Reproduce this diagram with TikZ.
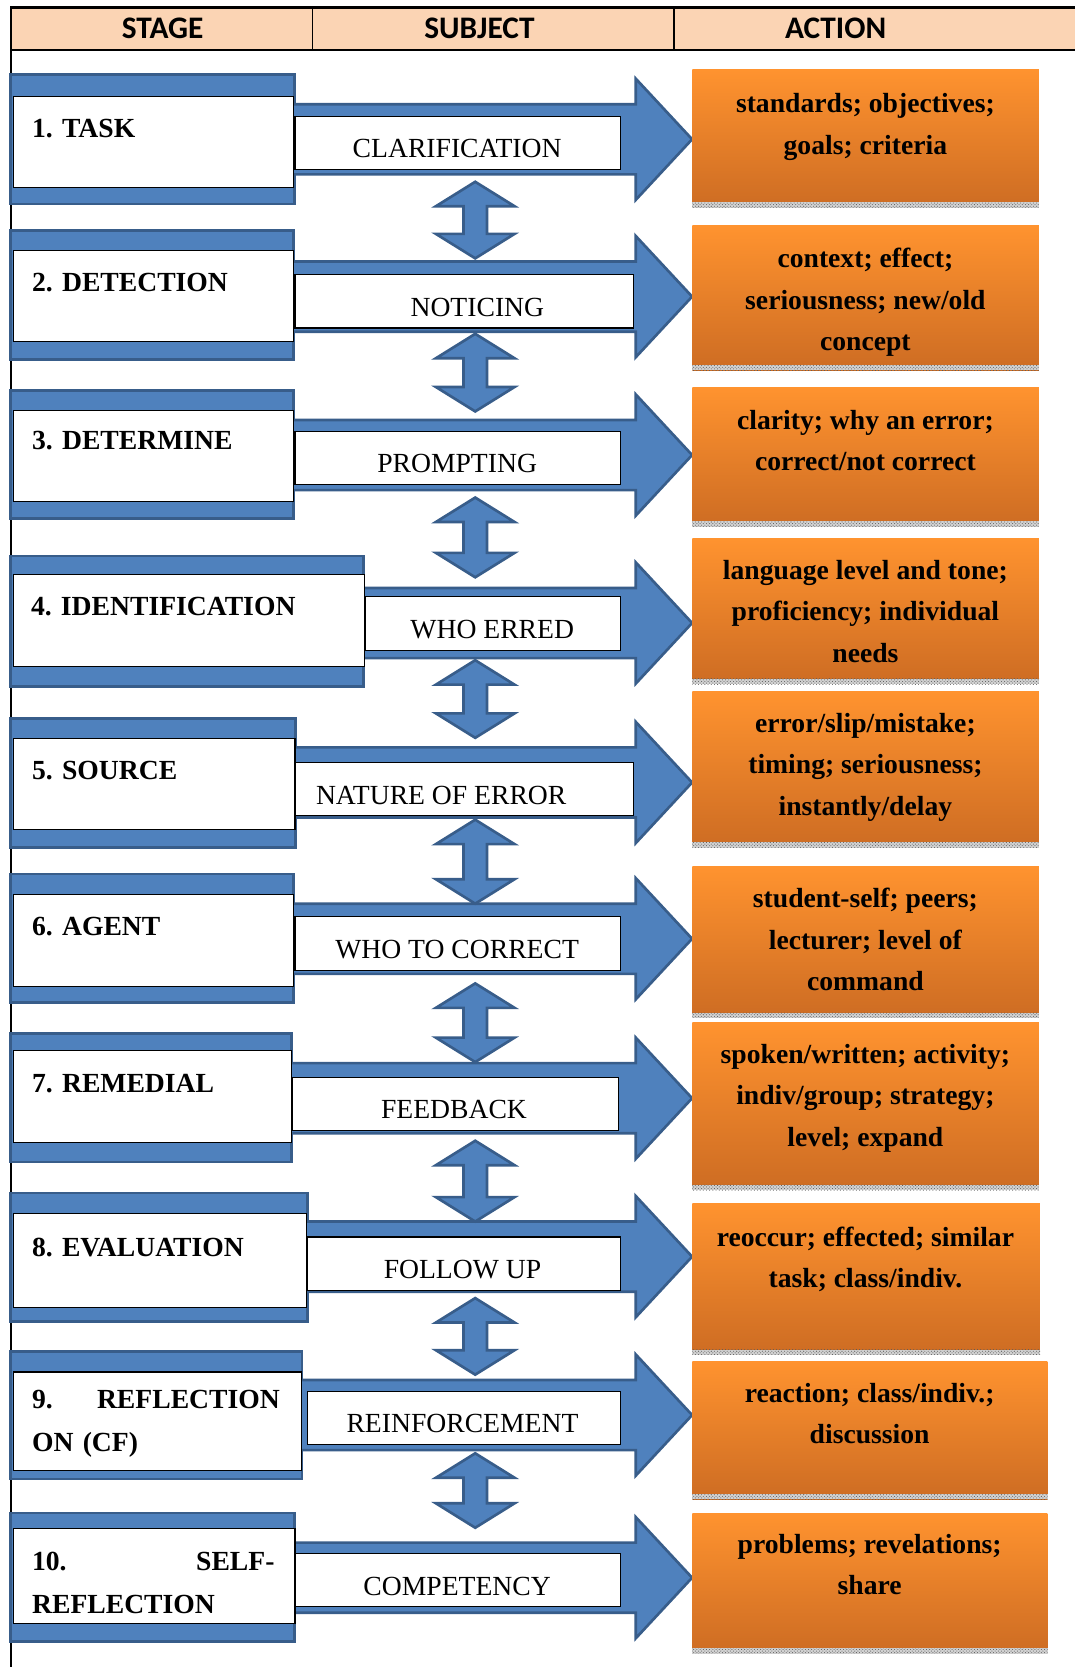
\documentclass[tikz,border=0pt]{standalone}
\usepackage{fontspec}
\setmainfont{Liberation Serif}
\newfontfamily\hdrfont{Carlito}
\usetikzlibrary{patterns}
\definecolor{hdrfill}{HTML}{FBD4B4}
\definecolor{blueF}{HTML}{4F81BD}
\definecolor{blueD}{HTML}{385D8A}
\definecolor{orT}{HTML}{FF932F}
\definecolor{orB}{HTML}{CD6C23}
\newcommand\rgtarr[2]{\path[blockarrow] (#1,#2-33) -- (598,#2-33) -- (598,#2-57) -- (651,#2) -- (598,#2+57) -- (598,#2+33) -- (#1,#2+33) -- cycle;}
\newcommand\dblarr[2]{\path[blockarrow] (447,#1) -- (484,#1+23) -- (458,#1+23) -- (458,#2-23) -- (484,#2-23) -- (447,#2) -- (410,#2-23) -- (436,#2-23) -- (436,#1+23) -- (410,#1+23) -- cycle;}
\newcommand\hatchstrip[1]{\fill[gray!35] ([yshift=5pt]#1.south west) rectangle (#1.south east);
  \fill[pattern=crosshatch dots, pattern color=gray!70!black] ([yshift=5pt]#1.south west) rectangle (#1.south east);}
\begin{document}
\begin{tikzpicture}[x=1pt,y=-1pt,
  band/.style={fill=blueF, draw=blueD, line width=2.5pt},
  blockarrow/.style={fill=blueF, draw=blueD, line width=2.5pt},
  stagebox/.style={draw=black, fill=white, line width=1pt, inner sep=0pt, anchor=north west},
  stagetext/.style={anchor=north west, inner sep=0pt, align=left, font=\bfseries\fontsize{26}{40}\selectfont},
  subjbox/.style={draw=black, fill=white, line width=1pt, inner sep=0pt, anchor=north west, minimum height=50pt},
  subjtext/.style={anchor=base, inner sep=0pt, font=\fontsize{26}{30}\selectfont},
  actbox/.style={top color=orT, bottom color=orB, draw=none, inner sep=0pt, anchor=north west},
  acttext/.style={anchor=north, inner sep=0pt, align=center, font=\bfseries\fontsize{26}{39}\selectfont},
  hdrtext/.style={anchor=base, inner sep=0pt, font=\hdrfont\bfseries\fontsize{29.5}{32}\selectfont}]
\useasboundingbox (0,0) rectangle (1011,1568);
\fill[white] (0,0) rectangle (1011,1568);
% header
\fill[hdrfill] (10,7) rectangle (1011,47);
\draw[line width=2pt] (1011,7) -- (10,7) -- (10,1568);
\draw[line width=2pt] (10,47) -- (1011,47);
\draw[line width=1.5pt] (294,7) -- (294,47);
\draw[line width=1.5pt] (634,7) -- (634,47);
\node[hdrtext] (h1) at (153,36.5) {STAGE};
\node[hdrtext] (h2) at (451,36.5) {SUBJECT};
\node[hdrtext] (h3) at (786,36.5) {ACTION};
% bands
\draw[band] (10,70) rectangle (277,192);
\draw[band] (10,217) rectangle (276,338);
\draw[band] (10,367) rectangle (276,488);
\draw[band] (10,523) rectangle (342,646);
\draw[band] (10,676) rectangle (278,797);
\draw[band] (10,822) rectangle (276,943);
\draw[band] (10,972) rectangle (274,1093);
\draw[band] (10,1122) rectangle (289,1243);
\draw[band] (10,1271) rectangle (284,1391);
\draw[band] (10,1423) rectangle (277,1544);
% right block arrows
\rgtarr{270}{131}
\rgtarr{270}{279}
\rgtarr{270}{428}
\rgtarr{336}{586}
\rgtarr{271}{736}
\rgtarr{270}{883}
\rgtarr{268}{1033}
\rgtarr{282}{1182}
\rgtarr{277}{1331}
\rgtarr{270}{1484}
% stage boxes
\node[stagebox, minimum width=264pt, minimum height=86pt] (st1) at (12,90) {};
\node[stagebox, minimum width=264pt, minimum height=86pt] (st2) at (12,235) {};
\node[stagebox, minimum width=264pt, minimum height=85pt] (st3) at (12,386) {};
\node[stagebox, minimum width=330pt, minimum height=86pt] (st4) at (12,540) {};
\node[stagebox, minimum width=265pt, minimum height=86pt] (st5) at (12,694) {};
\node[stagebox, minimum width=264pt, minimum height=86pt] (st6) at (12,841) {};
\node[stagebox, minimum width=262pt, minimum height=86pt] (st7) at (12,988) {};
\node[stagebox, minimum width=276pt, minimum height=88pt] (st8) at (12,1141) {};
\node[stagebox, minimum width=271pt, minimum height=93pt] (st9) at (12,1290) {};
\node[stagebox, minimum width=265pt, minimum height=90pt] (st10) at (12,1437) {};
\node[stagetext] (t1) at (30,101) {\strut 1. TASK};
\node[stagetext] (t2) at (30,246) {\strut 2. DETECTION};
\node[stagetext] (t3) at (30,395) {\strut 3. DETERMINE};
\node[stagetext] (t4) at (29,551) {\strut 4. IDENTIFICATION};
\node[stagetext] (t5) at (30,705) {\strut 5. SOURCE};
\node[stagetext] (t6) at (30,852) {\strut 6. AGENT};
\node[stagetext] (t7) at (30,999) {\strut 7. REMEDIAL};
\node[stagetext] (t8) at (30,1154) {\strut 8. EVALUATION};
\node[stagetext, text width=233pt] (t9) at (30,1297) {\strut 9.\hfill REFLECTION\\ON (CF)};
\node[stagetext, text width=228pt] (t10) at (30,1449) {\strut 10.\hfill SELF-\\REFLECTION};
% subject boxes
\node[subjbox, minimum width=306pt] (s1) at (277,109) {};
\node[subjbox, minimum width=318pt] (s2) at (277,258) {};
\node[subjbox, minimum width=306pt] (s3) at (277,405) {};
\node[subjbox, minimum width=240pt] (s4) at (343,561) {};
\node[subjbox, minimum width=318pt] (s5) at (277,717) {};
\node[subjbox, minimum width=306pt] (s6) at (277,862) {};
\node[subjbox, minimum width=306pt] (s7) at (275,1013) {};
\node[subjbox, minimum width=294pt] (s8) at (289,1163) {};
\node[subjbox, minimum width=294pt] (s9) at (289,1308) {};
\node[subjbox, minimum width=306pt] (s10) at (277,1461) {};
\node[subjtext] (u1) at (430,148.5) {CLARIFICATION};
\node[subjtext] (u2) at (449,297.5) {NOTICING};
\node[subjtext] (u3) at (430,444.5) {PROMPTING};
\node[subjtext] (u4) at (463,600.5) {WHO ERRED};
\node[subjtext] (u5) at (415,756.5) {NATURE OF ERROR};
\node[subjtext] (u6) at (430,901.5) {WHO TO CORRECT};
\node[subjtext] (u7) at (427,1052.5) {FEEDBACK};
\node[subjtext] (u8) at (435,1202.5) {FOLLOW UP};
\node[subjtext] (u9) at (435,1347.5) {REINFORCEMENT};
\node[subjtext] (u10) at (430,1500.5) {COMPETENCY};
% vertical double arrows
\dblarr{171}{243}
\dblarr{314}{387}
\dblarr{468}{543}
\dblarr{621}{694}
\dblarr{771}{850}
\dblarr{925}{999}
\dblarr{1073}{1149}
\dblarr{1221}{1293}
\dblarr{1367}{1437}
% action boxes
\node[actbox, minimum width=326pt, minimum height=130pt] (a1) at (651,65) {};
\node[actbox, minimum width=326pt, minimum height=136pt] (a2) at (651,212) {};
\node[actbox, minimum width=326pt, minimum height=131pt] (a3) at (651,364) {};
\node[actbox, minimum width=326pt, minimum height=137pt] (a4) at (651,506) {};
\node[actbox, minimum width=326pt, minimum height=147pt] (a5) at (651,650) {};
\node[actbox, minimum width=326pt, minimum height=142pt] (a6) at (651,815) {};
\node[actbox, minimum width=326pt, minimum height=157pt] (a7) at (651,962) {};
\node[actbox, minimum width=327pt, minimum height=142pt] (a8) at (651,1132) {};
\node[actbox, minimum width=334pt, minimum height=130pt] (a9) at (651,1280) {};
\node[actbox, minimum width=334pt, minimum height=132pt] (a10) at (651,1423) {};
\hatchstrip{a1}\hatchstrip{a2}\hatchstrip{a3}\hatchstrip{a4}\hatchstrip{a5}
\hatchstrip{a6}\hatchstrip{a7}\hatchstrip{a8}\hatchstrip{a9}\hatchstrip{a10}
\node[acttext] (x1) at (814,78.5) {\strut standards; objectives;\\goals; criteria};
\node[acttext] (x2) at (814,224.5) {\strut context; effect;\\seriousness; new/old\\concept};
\node[acttext] (x3) at (814,376.5) {\strut clarity; why an error;\\correct/not correct};
\node[acttext] (x4) at (814,517.5) {\strut language level and tone;\\proficiency; individual\\needs};
\node[acttext] (x5) at (814,661.5) {\strut error/slip/mistake;\\timing; seriousness;\\instantly/delay};
\node[acttext] (x6) at (814,826.5) {\strut student-self; peers;\\lecturer; level of\\command};
\node[acttext] (x7) at (814,972.5) {\strut spoken/written; activity;\\indiv/group; strategy;\\level; expand};
\node[acttext] (x8) at (814,1144.5) {\strut reoccur; effected; similar\\task; class/indiv.};
\node[acttext] (x9) at (818,1291.5) {\strut reaction; class/indiv.;\\discussion};
\node[acttext] (x10) at (818,1433.5) {\strut problems; revelations;\\share};
\end{tikzpicture}
\end{document}
